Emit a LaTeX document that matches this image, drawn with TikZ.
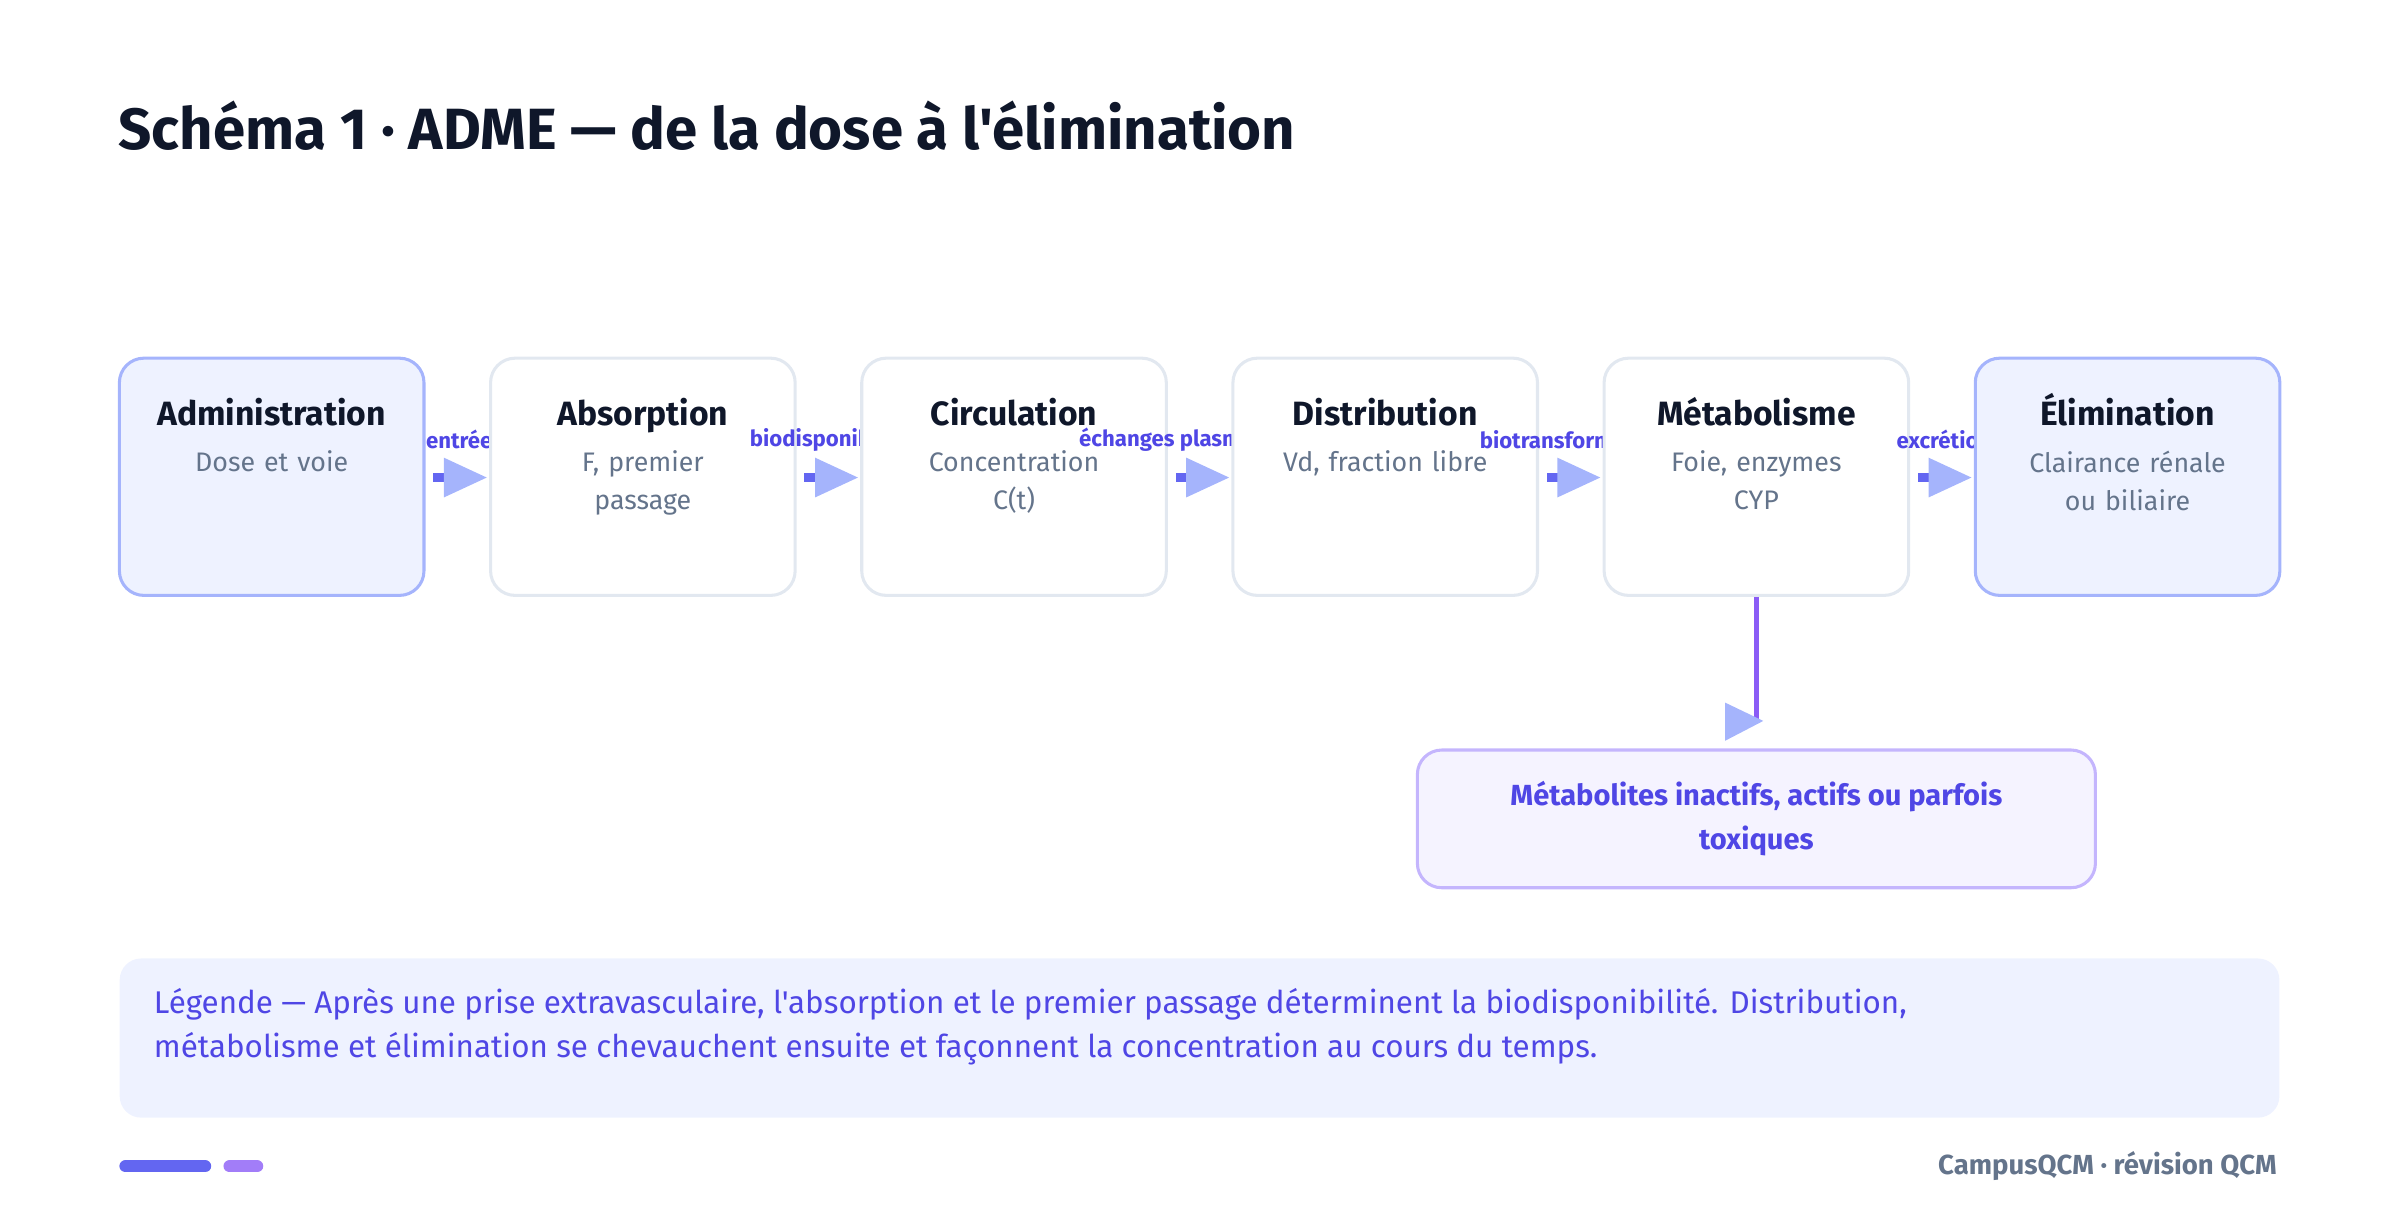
\documentclass[tikz,border=0pt]{standalone}
\usepackage{fontspec}
\setmainfont{Fira Sans}[Ligatures=TeXOff]
\usepackage{tikz}
\usetikzlibrary{positioning}

\definecolor{ink}{HTML}{0F172A}
\definecolor{subgray}{HTML}{64748B}
\definecolor{indigo}{HTML}{4F46E5}
\definecolor{lightind}{HTML}{A5B4FC}
\definecolor{paleind}{HTML}{EEF2FF}
\definecolor{edgegray}{HTML}{E2E8F0}
\definecolor{violet}{HTML}{8B5CF6}
\definecolor{lilac}{HTML}{C4B5FD}
\definecolor{palelilac}{HTML}{F5F3FF}
\definecolor{stem}{HTML}{6366F1}

\begin{document}
\begin{tikzpicture}[
        x=1pt, y=-1pt,
        stage/.style = {
            draw=edgegray, fill=white, line width=2pt,
            rounded corners=16pt,
            minimum width=199pt, minimum height=155pt,
        },
        ends/.style = {
            stage, draw=lightind, fill=paleind,
        },
        stagetitle/.style = {
            font=\fontsize{22}{26}\selectfont\bfseries, text=ink,
        },
        stagesub/.style = {
            font=\fontsize{17.5}{25}\selectfont, text=subgray,
            align=center, text width=185pt, anchor=north,
        },
        flowlabel/.style = {
            font=\fontsize{14.5}{16}\selectfont\bfseries, text=indigo,
        },
        tip/.style = {
            fill=lightind,
        },
        ]

        \useasboundingbox (0,0) rectangle (1568,802);

        % Titre
        \node[anchor=west, font=\fontsize{38}{44}\selectfont\bfseries, text=ink]
            (title) at (74,82) {Schéma 1 · ADME — de la dose à l'élimination};

        % Étapes et flèches
        \foreach \i/\name/\kind/\head/\sub/\lab in {
                0/admin/ends/Administration/{Dose et voie}/{entrée},
                1/absorp/stage/Absorption/{F, premier\\passage}/{biodisponibilité},
                2/circ/stage/Circulation/{Concentration\\C(t)}/{échanges plasma–tissus},
                3/distrib/stage/Distribution/{Vd, fraction libre}/{biotransformation},
                4/metab/stage/Métabolisme/{Foie, enzymes\\CYP}/{excrétion},
                5/elim/ends/Élimination/{Clairance rénale\\ou biliaire}/{}}
        {
            \node[\kind] (\name) at (177.5+242.5*\i,311.5) {};
            \node[stagetitle, anchor=base] (\name-title) at (177.5+242.5*\i,278) {\head};
            \node[stagesub] (\name-sub) at (177.5+242.5*\i,291) {\sub};
            \ifnum\i<5
                \node[flowlabel] (\name-lab) at (300+242.5*\i,287) {\lab};
                \fill[stem] (283+242.5*\i,309) rectangle ++(8,6);
                \fill[tip] (290+242.5*\i,299) -- (318+242.5*\i,312) -- (290+242.5*\i,325) -- cycle;
            \fi
        }

        % Métabolites
        \node[draw=lilac, fill=palelilac, line width=2pt, rounded corners=16pt,
              minimum width=443pt, minimum height=90pt, align=center,
              font=\fontsize{19}{29}\selectfont\bfseries, text=indigo]
            (metabolites) at (1147.5,535) {Métabolites inactifs, actifs ou parfois\\toxiques};
        \coordinate (metab-drop) at (1147.5,471);
        \draw[violet, line width=3pt] (metab.south) -- (metab-drop);
        \fill[tip] (1127,459) -- (1152,471) -- (1127,484) -- cycle;

        % Légende
        \node[fill=paleind, rounded corners=14pt, minimum width=1411pt, minimum height=104pt,
              anchor=north west] (legend) at (78,626) {};
        \node[anchor=north west, align=left, text=indigo,
              font=\fontsize{20.5}{29}\selectfont] (legend-text) at (97,642)
            {Légende — Après une prise extravasculaire, l'absorption et le premier passage déterminent la biodisponibilité. Distribution,\\
             métabolisme et élimination se chevauchent ensuite et façonnent la concentration au cours du temps.};

        % Pied de page
        \draw[stem, line width=8pt, line cap=round] (82,762) coordinate (bar1a) -- (134,762) coordinate (bar1b);
        \draw[violet!80, line width=8pt, line cap=round] (150,762) coordinate (bar2a) -- (168,762) coordinate (bar2b);
        \node[anchor=east, text=subgray, font=\fontsize{18}{20}\selectfont\bfseries]
            (footer) at (1491,762) {CampusQCM · révision QCM};
    \end{tikzpicture}
\end{document}
